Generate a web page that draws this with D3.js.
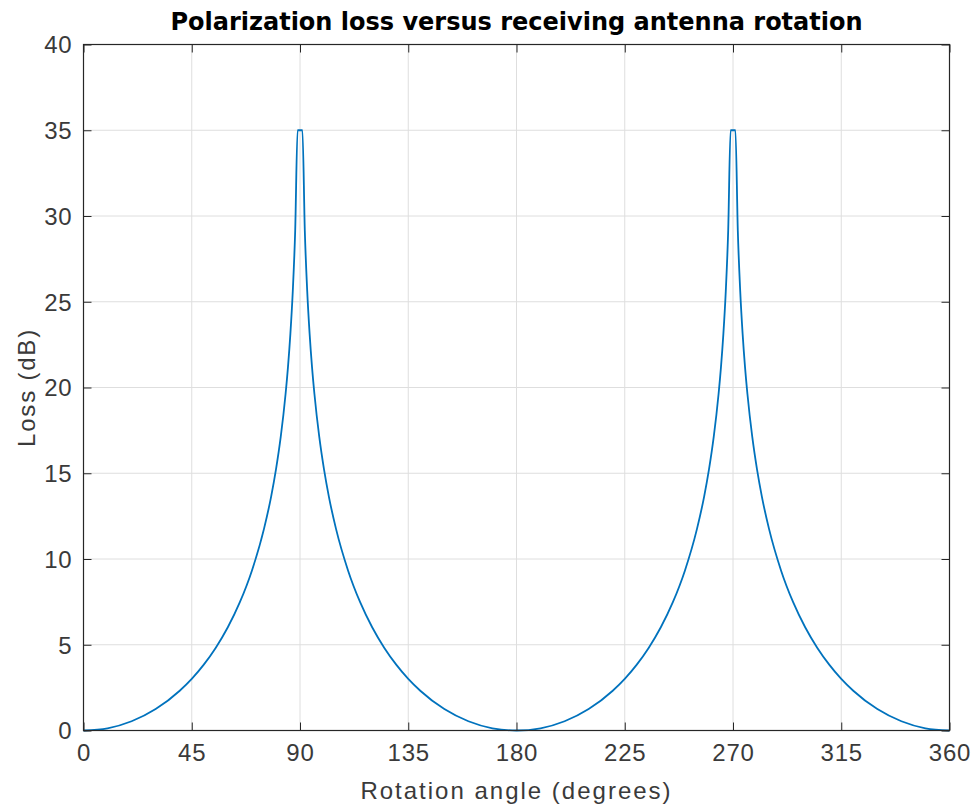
<!DOCTYPE html>
<html><head><meta charset="utf-8">
<script src="https://cdn.jsdelivr.net/npm/d3@7"></script>
<style>body{margin:0;background:#fff;}svg{display:block;font-family:"Liberation Sans",Arial,sans-serif;}</style>
</head><body><svg id="c" width="975" height="810"></svg>
<script>
const angles = [0,10,20,30,40,45,50,55,60,65,70,75,78,80,82,84,85,86,87,88,89,90,91,92,93,94,95,96,98,100,102,105,110,115,120,125,130,135,140,150,160,170,
180,190,200,210,220,225,230,235,240,245,250,255,258,260,262,264,265,266,267,268,269,270,271,272,273,274,275,276,278,280,282,285,290,295,300,305,310,315,320,330,340,350,360];
const loss = [0,0.13,0.54,1.25,2.32,3.01,3.84,4.83,6.02,7.48,9.32,11.74,13.64,15.21,17.13,19.62,21.19,23.13,25.62,29.14,35,35,35,29.14,25.62,23.13,21.19,19.62,17.13,15.21,13.64,11.74,9.32,7.48,6.02,4.83,3.84,3.01,2.32,1.25,0.54,0.13,
0,0.13,0.54,1.25,2.32,3.01,3.84,4.83,6.02,7.48,9.32,11.74,13.64,15.21,17.13,19.62,21.19,23.13,25.62,29.14,35,35,35,29.14,25.62,23.13,21.19,19.62,17.13,15.21,13.64,11.74,9.32,7.48,6.02,4.83,3.84,3.01,2.32,1.25,0.54,0.13,0];
const xTicks = [0,45,90,135,180,225,270,315,360];
const yTicks = [0,5,10,15,20,25,30,35,40];
const titleText = "Polarization loss versus receiving antenna rotation";
const xLabel = "Rotation angle (degrees)";
const yLabel = "Loss (dB)";

const L=83.5,R=949.5,T=44.5,B=730.5;
const svg=d3.select("#c");
const x=d3.scaleLinear().domain([0,360]).range([L,R]);
const y=d3.scaleLinear().domain([0,40]).range([B,T]);
const axc="#262626", txc="#3a3a3a";
// grid
svg.append("g").selectAll("line").data(xTicks).join("line")
 .attr("x1",d=>x(d)).attr("x2",d=>x(d)).attr("y1",T).attr("y2",B)
 .attr("stroke","#dedede").attr("stroke-width",1);
svg.append("g").selectAll("line").data(yTicks).join("line")
 .attr("y1",d=>y(d)).attr("y2",d=>y(d)).attr("x1",L).attr("x2",R)
 .attr("stroke","#dedede").attr("stroke-width",1);
// line
const data=angles.map((a,i)=>[a,loss[i]]);
svg.append("path").datum(data)
 .attr("d",d3.line().x(d=>x(d[0])).y(d=>y(d[1])).curve(d3.curveMonotoneX))
 .attr("fill","none").attr("stroke","#0072BD").attr("stroke-width",1.8);
// axes
const ax=svg.append("g").attr("transform",`translate(0,${B})`)
 .call(d3.axisBottom(x).tickValues(xTicks).tickSize(-8).tickPadding(13).tickFormat(d3.format("d")));
const ay=svg.append("g").attr("transform",`translate(${L},0)`)
 .call(d3.axisLeft(y).tickValues(yTicks).tickSize(-8).tickPadding(11).tickFormat(d3.format("d")));
const axt=svg.append("g").attr("transform",`translate(0,${T})`)
 .call(d3.axisTop(x).tickValues(xTicks).tickSize(-8).tickFormat(""));
const ayr=svg.append("g").attr("transform",`translate(${R},0)`)
 .call(d3.axisRight(y).tickValues(yTicks).tickSize(-8).tickFormat(""));
[ax,ay,axt,ayr].forEach(g=>{
 g.selectAll("path").remove();
 g.selectAll("line").attr("stroke",axc).attr("stroke-width",1);
 g.selectAll("text").attr("fill",txc).style("font-size","24px").style("letter-spacing","0.8px").style("font-family","Liberation Sans, Arial, sans-serif");
});
svg.append("rect").attr("x",L).attr("y",T).attr("width",R-L).attr("height",B-T)
 .attr("fill","none").attr("stroke",axc).attr("stroke-width",1.2);
ay.selectAll("text").attr("dy","0.35em");
ax.selectAll("text").attr("dy","0.71em");
svg.append("text").attr("x",(L+R)/2).attr("y",30).attr("text-anchor","middle")
 .style("font-family","DejaVu Sans, Verdana, sans-serif")
 .style("font-weight","bold").style("font-size","24px").attr("fill","#000").text(titleText);
svg.append("text").attr("x",(L+R)/2).attr("y",799).attr("text-anchor","middle")
 .style("font-size","24px").style("letter-spacing","2px").attr("fill",txc).text(xLabel);
svg.append("text").attr("transform",`translate(35,${(T+B)/2}) rotate(-90)`).attr("text-anchor","middle")
 .style("font-size","24px").style("letter-spacing","1.8px").attr("fill",txc).text(yLabel);
</script></body></html>
